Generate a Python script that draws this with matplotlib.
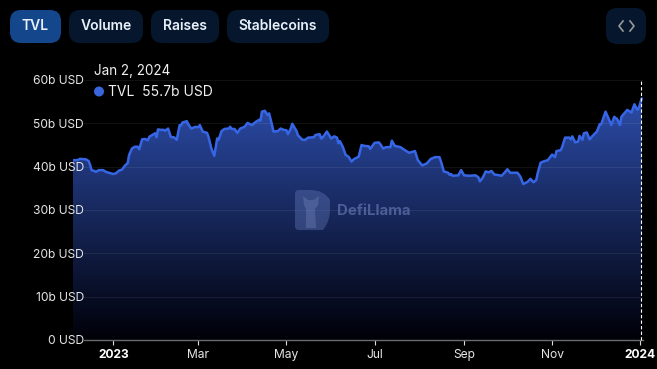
import numpy as np
import matplotlib
matplotlib.use('Agg')
import matplotlib.pyplot as plt
from matplotlib.patches import FancyBboxPatch, PathPatch, Circle
from matplotlib.path import Path

plt.rcParams['font.family'] = ['Inter', 'DejaVu Sans']

# days since 2023-01-01
days = [-28, -25, -23, -19, -17, -16, -15, -13, -12, -10, -7, -5, -2, 0, 2, 4, 6, 8, 10, 11, 13, 15, 17, 18, 20, 22,
        24, 25, 28, 29, 30, 31, 33, 35, 36, 38, 40, 42, 44, 46, 47, 48, 51, 52, 54, 57, 59, 60, 62, 65, 66, 68, 70, 72,
        73, 75, 77, 80, 81, 82, 84, 86, 88, 91, 93, 96, 99, 101, 102, 103, 105, 107, 108, 110, 111, 114, 116, 118, 120,
        121, 123, 124, 127, 128, 129, 131, 133, 135, 139, 140, 143, 144, 145, 148, 151, 153, 155, 156, 157, 159, 161,
        163, 165, 167, 170, 172, 174, 177, 178, 181, 184, 185, 187, 189, 192, 193, 195, 199, 202, 205, 209, 211, 214,
        217, 220, 223, 226, 227, 229, 232, 233, 234, 235, 239, 241, 243, 247, 251, 253, 254, 256, 258, 260, 262, 264,
        266, 269, 271, 273, 275, 280, 282, 284, 287, 289, 291, 293, 294, 296, 298, 301, 304, 306, 307, 310, 311, 313,
        316, 317, 318, 320, 322, 323, 325, 326, 328, 330, 332, 335, 337, 338, 341, 343, 345, 347, 349, 351, 352, 354,
        356, 359, 361, 363, 364, 366]
tvl = [41.5, 41.5, 41.8, 41.7, 41.3, 40.4, 39.2, 39.0, 38.8, 39.2, 39.2, 38.8, 38.5, 38.3, 38.5, 39.1, 39.3, 40.2, 40.8,
       42.7, 44.2, 44.6, 44.6, 44.0, 46.3, 46.4, 46.1, 46.9, 47.5, 47.7, 46.8, 48.6, 48.5, 48.5, 48.3, 48.8, 46.8, 46.8,
       46.2, 49.6, 49.5, 50.2, 50.5, 49.8, 48.8, 49.2, 49.1, 49.6, 48.1, 47.8, 46.9, 44.2, 42.5, 46.5, 46.2, 48.2, 48.7,
       48.8, 49.2, 48.7, 48.7, 47.8, 48.8, 49.2, 50.1, 49.6, 50.4, 50.8, 50.6, 52.7, 52.9, 51.9, 52.3, 49.6, 48.1, 48.2,
       48.8, 48.5, 48.4, 47.5, 48.8, 49.9, 48.2, 47.2, 46.9, 46.2, 46.2, 46.7, 46.8, 47.3, 47.5, 46.5, 46.7, 48.1, 46.5,
       47.0, 46.7, 45.4, 45.9, 44.6, 42.7, 42.3, 41.2, 41.8, 42.3, 45.0, 44.8, 44.7, 44.1, 45.5, 45.6, 45.2, 44.2, 44.5,
       44.5, 46.0, 44.8, 44.5, 43.8, 43.2, 43.6, 41.5, 40.3, 40.7, 41.8, 42.2, 42.2, 41.2, 38.9, 38.6, 38.1, 38.3, 37.9,
       38.0, 39.2, 38.0, 37.9, 38.0, 37.5, 36.6, 37.5, 38.9, 38.7, 39.0, 38.2, 38.1, 37.9, 38.6, 39.4, 38.6, 38.6, 37.7,
       36.0, 36.5, 37.2, 36.4, 36.9, 38.5, 40.9, 41.2, 41.5, 42.8, 42.2, 43.6, 43.8, 44.6, 46.7, 46.7, 46.3, 47.0, 45.6,
       45.8, 47.1, 46.2, 47.7, 47.9, 46.3, 47.1, 48.1, 49.8, 49.8, 52.7, 51.2, 49.6, 51.5, 51.0, 49.6, 51.5, 52.3, 53.1,
       52.5, 54.4, 53.1, 53.5, 55.7]

y_ticks = [0, 10, 20, 30, 40, 50, 60]
y_labels = ['0 USD', '10b USD', '20b USD', '30b USD', '40b USD', '50b USD', '60b USD']
x_ticks = [0, 59, 120, 181, 243, 304, 365]
x_labels = ['2023', 'Mar', 'May', 'Jul', 'Sep', 'Nov', '2024']
buttons = ['TVL', 'Volume', 'Raises', 'Stablecoins']

W, H = 657, 369
fig = plt.figure(figsize=(W / 100, H / 100), dpi=100, facecolor='black')

# main chart
ax = fig.add_axes([72.5 / W, 1 - 340 / H, 570 / W, 260 / H], facecolor='black')
xmin, xmax = -28.2, 366.6

# fill fades out to black at the bottom
grad = np.zeros((256, 1, 4))
grad[:, 0, 0] = np.linspace(44, 0, 256) / 255
grad[:, 0, 1] = np.linspace(76, 0, 256) / 255
grad[:, 0, 2] = np.linspace(168, 8, 256) / 255
grad[:, 0, 3] = 1
im = ax.imshow(grad, extent=[xmin, xmax, 0, max(tvl)], aspect='auto', zorder=1)
poly = ax.fill_between(days, tvl, 0, facecolor='none', edgecolor='none')
im.set_clip_path(poly.get_paths()[0], transform=ax.transData)

ax.set_xlim(xmin, xmax)
ax.set_ylim(0, 60)

grid_start = -20.3
for v in y_ticks[1:]:
    ax.plot([grid_start, xmax], [v, v], color='white', alpha=0.07, lw=0.8, zorder=2)
ax.plot([grid_start, xmax], [0, 0], color='#6a6a6a', lw=1, zorder=2, clip_on=False)

ax.plot(days, tvl, color='#3666e6', lw=1.8, solid_joinstyle='round', zorder=3)
ax.plot([365.8, 365.8], [0, 60], color='white', lw=0.8, ls=(0, (3, 2)), zorder=4, clip_on=False)

for s in ax.spines.values():
    s.set_visible(False)
ax.set_yticks(y_ticks)
ax.set_yticklabels(y_labels, fontsize=8.7, color='#e6e6e6')
ax.tick_params(axis='y', length=0, pad=-8.3)
ax.set_xticks(x_ticks)
ax.set_xticklabels(x_labels, fontsize=8.7, color='#e6e6e6')
ax.tick_params(axis='x', length=3.6, width=0.8, color='#dddddd', pad=3)
for lab in ax.get_xticklabels():
    if lab.get_text() in ('2023', '2024'):
        lab.set_fontweight('bold')
        lab.set_color('white')
for lab in ax.get_yticklabels():
    lab.set_zorder(6)

# overlay in pixel coordinates for buttons, tooltip and watermark
ov = fig.add_axes([0, 0, 1, 1], facecolor='none')
ov.set_xlim(0, W)
ov.set_ylim(H, 0)
ov.axis('off')

btn_x = [(10, 61), (69, 143), (151, 219), (227, 329)]
for i, name in enumerate(buttons):
    x0, x1 = btn_x[i]
    color = '#14468c' if i == 0 else '#06172d'
    ov.add_patch(FancyBboxPatch((x0, 10), x1 - x0, 33, boxstyle='round,pad=0,rounding_size=11',
                                fc=color, ec='none'))
    ov.text((x0 + x1) / 2, 26, name, color='#e8f0fb', fontsize=10, fontweight='semibold', ha='center', va='center')

ov.add_patch(FancyBboxPatch((606, 8), 40, 36, boxstyle='round,pad=0,rounding_size=11',
                            fc='#06172d', ec='none'))
ov.plot([623, 619, 623], [21, 26, 31], color='#9a9a9a', lw=1.2)
ov.plot([630, 634, 630], [21, 26, 31], color='#9a9a9a', lw=1.2)

# tooltip
ov.text(94, 71, 'Jan 2, 2024', color='#f0f0f0', fontsize=9.7, va='center')
ov.add_patch(Circle((99, 91.5), 5, fc='#3a66dc', ec='none'))
ov.text(108, 91.5, 'TVL  55.7b USD', color='#f0f0f0', fontsize=10, va='center')

# watermark
d_shape = Path([(299, 190), (310, 190), (324, 190), (330, 200), (330, 210), (330, 221), (323, 230), (310, 230),
                (299, 230), (295, 230), (295, 226), (295, 194), (295, 190), (299, 190)],
               [Path.MOVETO, Path.LINETO, Path.CURVE3, Path.CURVE3, Path.LINETO, Path.CURVE3, Path.CURVE3,
                Path.LINETO, Path.LINETO, Path.CURVE3, Path.CURVE3, Path.LINETO, Path.CURVE3, Path.CURVE3])
ov.add_patch(PathPatch(d_shape, fc='#5a6fae', ec='none', alpha=0.45))
llama = Path([(303, 196), (308, 200), (314, 200), (319, 196), (318, 205), (315, 209), (316, 228), (306, 228),
              (306, 209), (304, 205), (303, 196)])
ov.add_patch(PathPatch(llama, fc='#7d90c6', ec='none', alpha=0.3))
ov.text(336.5, 211, 'DefiLlama', color='#5d70ab', alpha=0.75, fontsize=10.8, fontweight='bold', va='center')

plt.savefig('out.png', dpi=100, facecolor='black')
